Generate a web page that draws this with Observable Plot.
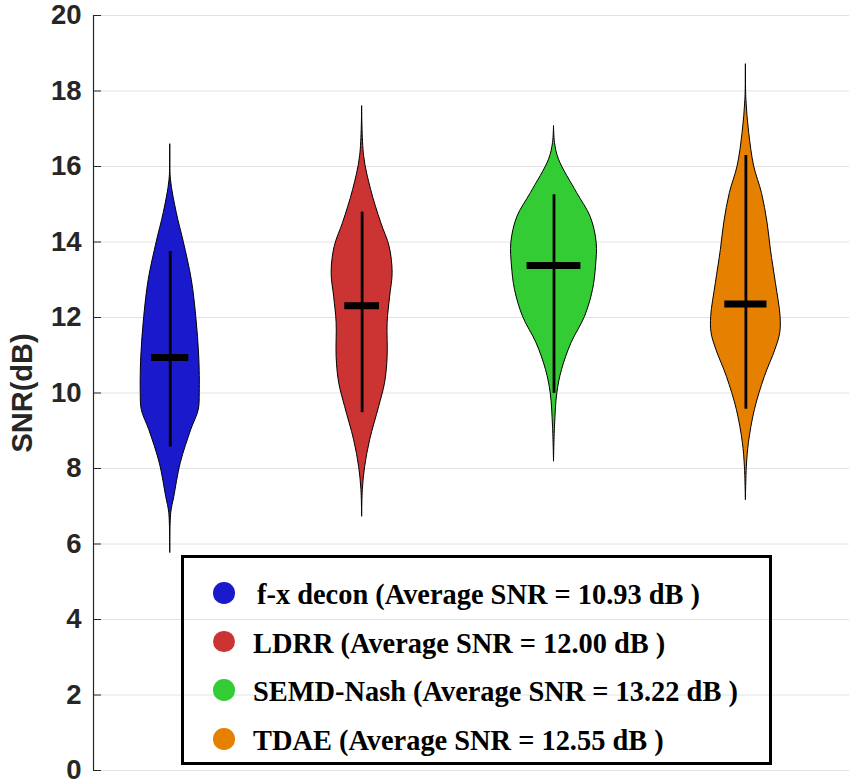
<!DOCTYPE html>
<html>
<head>
<meta charset="utf-8">
<script src="https://cdn.jsdelivr.net/npm/d3@7"></script>
<script src="https://cdn.jsdelivr.net/npm/@observablehq/plot@0.6"></script>
<style>
  body { margin: 0; background: #fff; }
  #wrap { position: relative; width: 849px; height: 783px; }
  #legend { position: absolute; left: 181px; top: 555px; width: 591px; height: 210px;
    border: 3px solid #000; box-sizing: border-box; padding-top: 13px;
    font-family: "Liberation Serif", "Times New Roman", serif; font-weight: bold;
    font-size: 28.4px; color: #000; }
  .row { position: relative; height: 48.7px; line-height: 48.7px; white-space: nowrap; }
  .dot { position: absolute; left: 29px; top: 11px; width: 21.6px; height: 21.6px; border-radius: 50%; }
  .lab { position: absolute; left: 69px; top: 0; }
</style>
</head>
<body>
<div id="wrap"></div>
<script>
// ---------- data ----------
const methods = ["f-x decon", "LDRR", "SEMD-Nash", "TDAE"];
const colors = ["#1a1acc", "#cc3434", "#34cc34", "#e68000"];
const averages = ["10.93", "12.00", "13.22", "12.55"];
const medians = [10.94, 12.31, 13.38, 12.36];
const whiskerLow = [8.57, 9.48, 9.99, 9.57];
const whiskerHigh = [13.75, 14.79, 15.25, 16.29];
const yTicks = [0, 2, 4, 6, 8, 10, 12, 14, 16, 18, 20];

// violin outlines: SNR level and half-width (pixels)
const fxLevels   = [16.58, 15.65, 14.77, 14.0, 13.0, 12.02, 10.95, 10.0, 9.55, 9.02, 8.14, 7.24, 6.82, 5.76];
const fxWidth    = [0, 0.7, 6.5, 13.5, 21.5, 26, 29, 29.5, 28.5, 21, 10.5, 4, 1, 0];
const ldrrLevels = [17.59, 16.27, 15.38, 14.51, 13.87, 13.18, 12.55, 11.86, 10.95, 10.27, 9.63, 8.75, 8.04, 7.43, 6.72];
const ldrrWidth  = [0, 2, 9, 19, 27.5, 30.5, 28, 25.5, 25.5, 23, 17, 8, 3, 0.7, 0];
const semdLevels = [17.06, 16.62, 16.18, 15.30, 14.66, 13.97, 13.35, 12.73, 12.02, 11.32, 10.61, 9.99, 9.11, 8.18];
const semdWidth  = [0, 1, 5, 23, 36.7, 42.7, 42, 39, 31, 17.5, 8, 3.3, 1, 0];
const tdaeLevels = [18.70, 17.77, 16.89, 16.0, 15.30, 14.50, 13.79, 12.91, 12.02, 11.58, 11.14, 10.43, 9.55, 8.67, 8.05, 7.16];
const tdaeWidth  = [0, 0.5, 3.3, 8.3, 16, 21.7, 25, 30, 34.7, 34.3, 29.5, 19, 9, 3, 1, 0];

const levels = [fxLevels, ldrrLevels, semdLevels, tdaeLevels];
const widths = [fxWidth, ldrrWidth, semdWidth, tdaeWidth];

// ---------- build ----------
const xDomain = [0.6, 4.54];
const pxPerUnit = 191.9; // x-scale pixels per category step
const rows = methods.flatMap((m, i) => levels[i].map((v, j) => ({
  method: m, pos: i + 1, v, hw: widths[i][j] / pxPerUnit, color: colors[i]
})));
const stats = methods.map((m, i) => {
  const hwAt = d3.scaleLinear().domain(levels[i]).range(widths[i]);
  return { method: m, pos: i + 1, median: medians[i], lo: whiskerLow[i], hi: whiskerHigh[i],
           bw: 0.64 * hwAt(medians[i]) / pxPerUnit };
});

const chart = Plot.plot({
  width: 849, height: 783,
  marginLeft: 93, marginRight: 0, marginTop: 15, marginBottom: 13,
  style: { fontFamily: "'Liberation Sans', Arial, sans-serif", background: "white", overflow: "visible" },
  x: { domain: xDomain, axis: null },
  y: { domain: [0, 20] },
  marks: [
    Plot.gridY(yTicks, { stroke: "#e2e2e2", strokeOpacity: 1, strokeWidth: 1 }),
    Plot.areaX(rows, { y: "v", x1: d => d.pos - d.hw, x2: d => d.pos + d.hw, z: "method",
      fill: "color", stroke: "black", strokeWidth: 1, curve: "catmull-rom" }),
    Plot.ruleX(stats, { x: "pos", y1: "lo", y2: "hi", stroke: "black", strokeWidth: 2.8 }),
    Plot.ruleY(stats, { y: "median", x1: d => d.pos - d.bw, x2: d => d.pos + d.bw, stroke: "black", strokeWidth: 7 }),
    Plot.ruleX([xDomain[0]], { stroke: "#262626", strokeWidth: 1.2 }),
    Plot.axisY(yTicks, { tickSize: -8, tickPadding: 20, fontSize: 27.5, fontWeight: "bold", color: "#262626",
      tickFormat: d => String(d), label: "SNR(dB)", labelAnchor: "center", labelArrow: "none", labelOffset: 82 })
  ]
});
d3.select(chart).selectAll('[aria-label="y-axis label"] text').attr("font-size", 29);
document.getElementById("wrap").appendChild(chart);

// legend
const legend = document.createElement("div");
legend.id = "legend";
methods.forEach((m, i) => {
  const row = document.createElement("div");
  row.className = "row";
  const dot = document.createElement("span");
  dot.className = "dot";
  dot.style.background = colors[i];
  const lab = document.createElement("span");
  lab.className = "lab";
  if (i === 0) lab.style.left = "73px";
  lab.textContent = `${m} (Average SNR = ${averages[i]} dB )`;
  row.appendChild(dot); row.appendChild(lab);
  legend.appendChild(row);
});
document.getElementById("wrap").appendChild(legend);
</script>
</body>
</html>
